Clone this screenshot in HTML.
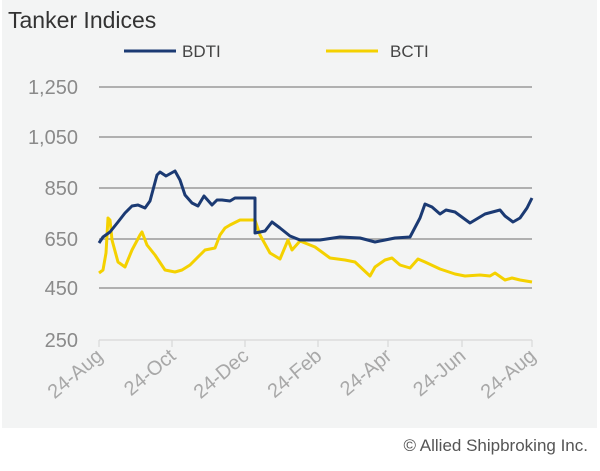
<!DOCTYPE html>
<html><head><style>
body{margin:0;background:#fff;width:600px;height:466px;overflow:hidden;font-family:"Liberation Sans",sans-serif}
</style></head><body>
<svg width="600" height="466" xmlns="http://www.w3.org/2000/svg" font-family="Liberation Sans, sans-serif">
<rect x="2" y="0" width="595" height="428" fill="#f3f4f4"/>
<text x="8" y="28" font-size="23" fill="#333">Tanker Indices</text>
<line x1="124" y1="51" x2="176" y2="51" stroke="#1b3a73" stroke-width="3"/>
<text x="182" y="57" font-size="17" fill="#444">BDTI</text>
<line x1="326" y1="51" x2="378" y2="51" stroke="#f4d100" stroke-width="3"/>
<text x="390" y="57" font-size="17" fill="#444">BCTI</text>
<g stroke="#9a9a9a" stroke-width="1.5">
<line x1="99" y1="87" x2="532" y2="87"/>
<line x1="99" y1="137" x2="532" y2="137"/>
<line x1="99" y1="188" x2="532" y2="188"/>
<line x1="99" y1="239" x2="532" y2="239"/>
<line x1="99" y1="288" x2="532" y2="288"/>
</g>
<g stroke="#d8d8d8" stroke-width="1.2">
<line x1="99" y1="340" x2="532" y2="340"/>
<line x1="99" y1="340" x2="99" y2="347"/><line x1="172" y1="340" x2="172" y2="347"/><line x1="245" y1="340" x2="245" y2="347"/><line x1="318" y1="340" x2="318" y2="347"/><line x1="388" y1="340" x2="388" y2="347"/><line x1="462" y1="340" x2="462" y2="347"/><line x1="532" y1="340" x2="532" y2="347"/>
</g>
<g font-size="20" fill="#8a8a8a" text-anchor="end">
<text x="78" y="94">1,250</text><text x="78" y="144">1,050</text><text x="78" y="195">850</text><text x="78" y="246">650</text><text x="78" y="295">450</text><text x="78" y="347">250</text>
</g>
<g font-size="20" fill="#a8a8a8" text-anchor="end">
<text transform="translate(104,358) rotate(-40)">24-Aug</text>
<text transform="translate(177,358) rotate(-40)">24-Oct</text>
<text transform="translate(250,358) rotate(-40)">24-Dec</text>
<text transform="translate(323,358) rotate(-40)">24-Feb</text>
<text transform="translate(393,358) rotate(-40)">24-Apr</text>
<text transform="translate(467,358) rotate(-40)">24-Jun</text>
<text transform="translate(537,358) rotate(-40)">24-Aug</text>
</g>
<polyline fill="none" stroke="#f4d100" stroke-width="3" stroke-linejoin="round" points="99,273 103,270 106,253 108,218 110,220 112,240 118,262 125,267 132,250 140,235 142,232 147,245 155,255 165,270 175,272 182,270 190,265 200,255 205,250 215,248 220,235 225,228 230,225 240,220 255,220 260,235 270,253 280,259 288,240 292,250 300,241 315,247 330,258 345,260 355,262 370,276 375,267 385,260 392,258 400,265 410,268 418,259 425,262 440,269 455,274 465,276 480,275 490,276 495,273 505,280 512,278 520,280 532,282"/>
<polyline fill="none" stroke="#1b3a73" stroke-width="3" stroke-linejoin="round" points="99,243 103,237 110,232 118,222 125,213 132,206 138,205 145,208 150,201 157,175 160,172 166,176 175,171 180,180 185,195 192,203 198,206 204,196 212,205 217,200 222,200 230,201 235,198 247,198 255,198 255,233 265,231 272,222 280,228 290,236 300,240 320,240 340,237 360,238 375,242 395,238 410,237 420,218 425,204 432,207 440,214 446,210 455,212 470,223 485,214 500,210 505,216 513,222 520,218 527,208 532,198"/>
<text x="588" y="451" font-size="17" fill="#555" text-anchor="end">© Allied Shipbroking Inc.</text>
</svg>
</body></html>
